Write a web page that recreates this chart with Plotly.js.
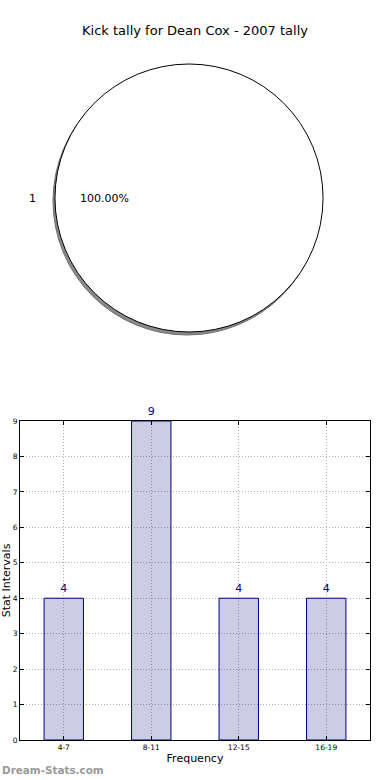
<!DOCTYPE html>
<html>
<head>
<meta charset="utf-8">
<script src="https://cdn.plot.ly/plotly-3.0.1.min.js"></script>
<style>html,body{margin:0;padding:0;background:#fff;}#chart{width:390px;height:780px;}</style>
</head>
<body>
<div id="chart"></div>
<script>
// Data
var pieLabels = ["1"];
var pieValues = [1];
var categories = ["4-7", "8-11", "12-15", "16-19"];
var counts = [4, 9, 4, 4];
var yTicks = [0, 1, 2, 3, 4, 5, 6, 7, 8, 9];
var chartTitle = "Kick tally for Dean Cox - 2007 tally";

var W = 390, H = 780;
function px(x) { return x / W; }
function py(y) { return 1 - y / H; }

var cx = 189, cy = 198, r = 134;
var total = pieValues.reduce(function (a, b) { return a + b; }, 0);
var pctText = (100 * pieValues[0] / total).toFixed(2) + "%";

var font = "DejaVu Sans, sans-serif";

var shadow = {
  type: "pie", labels: pieLabels, values: pieValues, sort: false,
  domain: { x: [px(cx - 2 - r), px(cx - 2 + r)], y: [py(cy + 3 + r), py(cy + 3 - r)] },
  marker: { colors: ["#8a8a8a"], line: { color: "#707070", width: 1 } },
  textinfo: "none", hoverinfo: "skip", showlegend: false
};
var pie = {
  type: "pie", labels: pieLabels, values: pieValues, sort: false,
  domain: { x: [px(cx - r), px(cx + r)], y: [py(cy + r), py(cy - r)] },
  marker: { colors: ["#ffffff"], line: { color: "#000000", width: 1 } },
  textinfo: "none", showlegend: false
};
var bars = {
  type: "bar", x: categories, y: counts, xaxis: "x", yaxis: "y",
  width: 0.45,
  marker: { color: "rgba(0,0,128,0.2)", line: { color: "#000080", width: 1 } },
  text: counts.map(String), textposition: "outside", cliponaxis: false,
  textfont: { color: "#000080", size: 11, family: font },
  showlegend: false
};

var layout = {
  width: W, height: H,
  margin: { l: 0, r: 0, t: 0, b: 0 },
  paper_bgcolor: "#fff", plot_bgcolor: "#fff",
  font: { family: font, color: "#000" },
  title: { text: chartTitle, x: 0.5, xanchor: "center", y: py(30), yanchor: "middle",
           font: { size: 13, family: font, color: "#000" } },
  xaxis: {
    domain: [px(20), px(370)], anchor: "y", range: [-0.5, 3.5],
    showline: true, linecolor: "#000", linewidth: 1, mirror: "allticks",
    ticks: "inside", ticklen: 4, tickcolor: "#000",
    showgrid: true, gridcolor: "#b0b0b0", griddash: "1px,2px", gridwidth: 1,
    tickfont: { size: 7.5, family: font }, zeroline: false,
    title: { text: "Frequency", font: { size: 11, family: font }, standoff: 3 },
    automargin: false, fixedrange: true
  },
  yaxis: {
    domain: [py(740), py(421)], anchor: "x", range: [0, 9],
    tickvals: yTicks, ticktext: yTicks.map(String),
    showline: true, linecolor: "#000", linewidth: 1, mirror: "allticks",
    ticks: "inside", ticklen: 4, tickcolor: "#000",
    showgrid: true, gridcolor: "#b0b0b0", griddash: "1px,2px", gridwidth: 1,
    tickfont: { size: 7.5, family: font }, zeroline: false,
    title: { text: "Stat Intervals", font: { size: 11, family: font }, standoff: 0 },
    automargin: false, fixedrange: true
  },
  annotations: [
    { text: pieLabels[0], xref: "paper", yref: "paper", x: px(32), y: py(198),
      xanchor: "center", yanchor: "middle",
      showarrow: false, font: { size: 11, family: font, color: "#000" } },
    { text: pctText, xref: "paper", yref: "paper", x: px(104), y: py(198),
      xanchor: "center", yanchor: "middle",
      showarrow: false, font: { size: 11, family: font, color: "#000" } },
    { text: "Dream-Stats.com", xref: "paper", yref: "paper", x: 0, xanchor: "left",
      y: py(770), yanchor: "middle", showarrow: false,
      font: { size: 10.4, family: "DejaVu Sans, sans-serif", color: "#999999", weight: "bold" } }
  ]
};

Plotly.newPlot("chart", [shadow, pie, bars], layout, { staticPlot: true, displayModeBar: false });
</script>
</body>
</html>
